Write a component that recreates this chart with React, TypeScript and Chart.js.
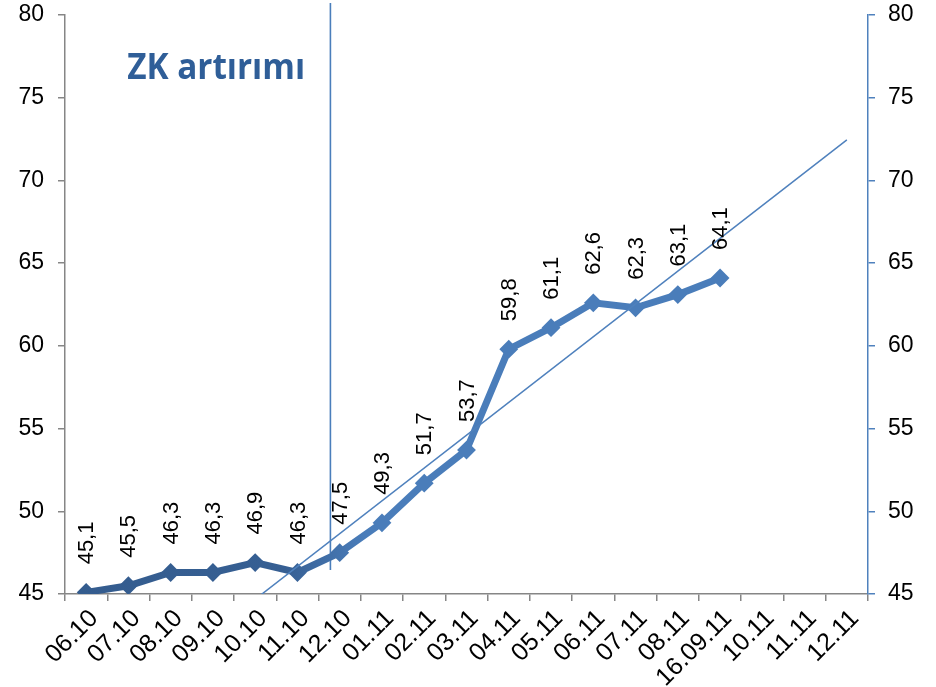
import React, { useEffect, useRef } from "react";
import { Chart, registerables } from "chart.js";

Chart.register(...registerables);

const categories = [
  "06.10", "07.10", "08.10", "09.10", "10.10", "11.10", "12.10",
  "01.11", "02.11", "03.11", "04.11", "05.11", "06.11", "07.11",
  "08.11", "16.09.11", "10.11", "11.11", "12.11",
];

const values: (number | null)[] = [
  45.1, 45.5, 46.3, 46.3, 46.9, 46.3, 47.5, 49.3, 51.7, 53.7,
  59.8, 61.1, 62.6, 62.3, 63.1, 64.1, null, null, null,
];

// linear trend line (two end values)
const trend: (number | null)[] = [
  null, null, null, null, 44.68, null, null, null, null, null,
  null, null, null, null, null, null, null, null, 72.45,
];

const yMin = 45;
const yMax = 80;
const yStep = 5;

// "ZK artırımı" marker: vertical line between 11.10 and 12.10
const markerLabel = "ZK artırımı";
const markerX = 5.78; // category position
const markerYFrom = 46.45;
const markerYTo = 80.73;

const FONT = "'Liberation Sans', Arial, sans-serif";

export default function App() {
  const ref = useRef<HTMLCanvasElement | null>(null);

  useEffect(() => {
    document.body.style.margin = "0";
    const canvas = ref.current;
    if (!canvas) return;

    const lineColor = (ctx: any) => {
      const chart = ctx.chart;
      const area = chart.chartArea;
      if (!area) return "#4A7EBB";
      const g = chart.ctx.createLinearGradient(area.left, 0, area.left + 400, 0);
      g.addColorStop(0, "#345C8E");
      g.addColorStop(0.55, "#365F93");
      g.addColorStop(0.75, "#4A7DBA");
      g.addColorStop(1, "#4A7DBA");
      return g;
    };

    const markerPlugin = {
      id: "marker",
      beforeDatasetsDraw(chart: any) {
        const { ctx, scales } = chart;
        const x = scales.x.getPixelForValue(markerX);
        const y1 = scales.y.getPixelForValue(markerYFrom);
        const y2 = scales.y.getPixelForValue(markerYTo);
        ctx.save();
        ctx.strokeStyle = "#4A7EBB";
        ctx.lineWidth = 1.6;
        ctx.beginPath();
        ctx.moveTo(x, y1);
        ctx.lineTo(x, y2);
        ctx.stroke();
        ctx.restore();
      },
      afterDatasetsDraw(chart: any) {
        const { ctx, scales } = chart;
        ctx.save();
        ctx.fillStyle = "#2F5E98";
        ctx.font = `bold 35px 'Open Sans', 'Noto Sans', sans-serif`;
        ctx.textAlign = "left";
        ctx.textBaseline = "alphabetic";
        const left = scales.x.getPixelForValue(0.97);
        ctx.fillText(markerLabel, left, 79, 178);
        ctx.restore();
      },
    };

    const labelPlugin = {
      id: "valueLabels",
      afterDatasetsDraw(chart: any) {
        const { ctx } = chart;
        const meta = chart.getDatasetMeta(0);
        ctx.save();
        ctx.fillStyle = "#000000";
        ctx.font = `22px ${FONT}`;
        ctx.textAlign = "left";
        ctx.textBaseline = "middle";
        meta.data.forEach((pt: any, i: number) => {
          const v = values[i];
          if (v === null || v === undefined) return;
          ctx.save();
          ctx.translate(pt.x, pt.y - 28);
          ctx.rotate(-Math.PI / 2);
          ctx.fillText(v.toFixed(1).replace(".", ","), 0, 1);
          ctx.restore();
        });
        ctx.restore();
      },
    };

    const noVPad = (w: number) => (scale: any) => {
      scale.width = w;
      scale.paddingTop = 0;
      scale.paddingBottom = 0;
    };

    const chart = new Chart(canvas, {
      type: "line",
      data: {
        labels: categories,
        datasets: [
          {
            label: "ZK",
            data: values,
            borderColor: lineColor,
            backgroundColor: lineColor,
            pointBackgroundColor: lineColor,
            pointBorderColor: lineColor,
            borderWidth: 7,
            pointStyle: "rectRot",
            pointRadius: 8,
            pointBorderWidth: 2,
            tension: 0,
            yAxisID: "y",
            order: 1,
            clip: 0,
          } as any,
          {
            label: "Trend",
            data: trend,
            borderColor: "#4F81BD",
            borderWidth: 1.5,
            pointRadius: 0,
            spanGaps: true,
            yAxisID: "y",
            order: 0,
            clip: 0,
          } as any,
        ],
      },
      options: {
        animation: false,
        responsive: true,
        maintainAspectRatio: false,
        layout: { padding: { top: 15, left: 0, right: 0, bottom: 0 } },
        plugins: {
          legend: { display: false },
          tooltip: { enabled: false },
          title: { display: false },
        },
        scales: {
          x: {
            type: "category",
            offset: true,
            grid: {
              offset: true,
              drawOnChartArea: false,
              drawTicks: true,
              tickLength: 7,
              color: "#868686",
              lineWidth: 1.5,
            },
            border: { color: "#868686", width: 1.5 },
            ticks: {
              autoSkip: false,
              minRotation: 45,
              maxRotation: 45,
              color: "#000000",
              font: { family: FONT, size: 25 },
              padding: 3,
              labelOffset: 8,
            },
            afterFit(scale: any) {
              scale.height = 93;
              scale.paddingLeft = 0;
              scale.paddingRight = 0;
            },
          },
          y: {
            position: "left",
            min: yMin,
            max: yMax,
            grid: {
              drawOnChartArea: false,
              drawTicks: true,
              tickLength: 7,
              color: "#868686",
              lineWidth: 1.5,
            },
            border: { color: "#868686", width: 1.5 },
            ticks: {
              stepSize: yStep,
              color: "#000000",
              font: { family: FONT, size: 23 },
              padding: 14,
            },
            afterFit: noVPad(65),
          },
          y2: {
            position: "right",
            min: yMin,
            max: yMax,
            grid: {
              drawOnChartArea: false,
              drawTicks: true,
              tickLength: 7,
              color: "#4F81BD",
              lineWidth: 1.5,
            },
            border: { color: "#4F81BD", width: 1.5 },
            ticks: {
              stepSize: yStep,
              color: "#000000",
              font: { family: FONT, size: 23 },
              padding: 13,
            },
            afterFit: noVPad(68),
          },
        },
      },
      plugins: [markerPlugin, labelPlugin],
    });

    return () => chart.destroy();
  }, []);

  return (
    <div style={{ width: 936, height: 687, position: "relative" }}>
      <canvas ref={ref} />
    </div>
  );
}
